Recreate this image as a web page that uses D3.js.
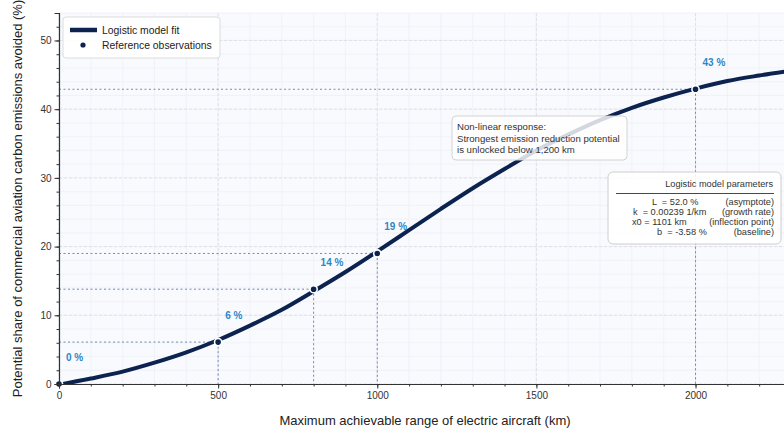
<!DOCTYPE html>
<html><head><meta charset="utf-8">
<script src="https://cdn.jsdelivr.net/npm/d3@7/dist/d3.min.js"></script>
<style>
body{margin:0;background:#fff;}
text{font-family:"Liberation Sans",Arial,sans-serif;}
</style></head>
<body><svg id="c" width="784" height="433"></svg>
<script>
// Fitted logistic curve at 100 km steps
const curveRange = [0,100,200,300,400,500,600,700,800,900,1000,1100,1200,1300,1400,1500,1600,1700,1800,1900,2000,2100,2200,2300];
const curveShare = [-0.1,0.8,1.8,3.1,4.6,6.4,8.5,10.8,13.5,16.3,19.3,22.4,25.5,28.5,31.3,34.0,36.3,38.4,40.2,41.7,43.0,44.1,44.9,45.6];
// Reference observations
const obsRange = [0,500,800,1000,2000];
const obsShare = [0,6.1,13.8,19.0,42.9];
const obsLabels = ["0 %","6 %","14 %","19 %","43 %"];
const xTicks = [0,500,1000,1500,2000];
const yTicks = [0,10,20,30,40,50];
const legendLabels = ["Logistic model fit","Reference observations"];
const noteLines = ["Non-linear response:","Strongest emission reduction potential","is unlocked below 1,200 km"];
const paramTitle = "Logistic model parameters";
const paramLeft = ["L  = 52.0 %","k  = 0.00239 1/km","x0 = 1101 km","b  = -3.58 %"];
const paramRight = ["(asymptote)","(growth rate)","(inflection point)","(baseline)"];

const navy = "#0c2350", blueLbl = "#2b87c8", guide = "#5b78b0";
const svg = d3.select("#c");
const m = {l:59, t:13, r:791, b:384};
const x = d3.scaleLinear().domain([0,2300]).range([m.l,m.r]);
const y = d3.scaleLinear().domain([0,54]).range([m.b,m.t]);

svg.append("rect").attr("x",m.l).attr("y",m.t).attr("width",m.r-m.l).attr("height",m.b-m.t).attr("fill","#f9fafd");
svg.append("clipPath").attr("id","clip").append("rect").attr("x",m.l).attr("y",m.t).attr("width",m.r-m.l).attr("height",m.b-m.t);

const g = svg.append("g");
// minor grid
g.selectAll(".mx").data(d3.range(0,2301,100)).join("line").attr("x1",d=>x(d)).attr("x2",d=>x(d)).attr("y1",m.t).attr("y2",m.b).attr("stroke","#edf0f7").attr("stroke-width",0.8);
g.selectAll(".my").data(d3.range(0,55,2)).join("line").attr("y1",d=>y(d)).attr("y2",d=>y(d)).attr("x1",m.l).attr("x2",m.r).attr("stroke","#edf0f7").attr("stroke-width",0.8);
// major grid
g.selectAll(".Mx").data(xTicks).join("line").attr("x1",d=>x(d)).attr("x2",d=>x(d)).attr("y1",m.t).attr("y2",m.b).attr("stroke","#dcdfe8").attr("stroke-width",0.9).attr("stroke-dasharray","3,2");
g.selectAll(".My").data(yTicks).join("line").attr("y1",d=>y(d)).attr("y2",d=>y(d)).attr("x1",m.l).attr("x2",m.r).attr("stroke","#dcdfe8").attr("stroke-width",0.9).attr("stroke-dasharray","3,2");

// guide lines
const obs = obsRange.map((r,i)=>({r, s:obsShare[i], lab:obsLabels[i]}));
const gl = svg.append("g");
obs.forEach(o=>{
  gl.append("line").attr("x1",x(0)).attr("x2",x(o.r)).attr("y1",y(o.s)).attr("y2",y(o.s)).attr("stroke",guide).attr("stroke-width",1).attr("stroke-dasharray","2,2.5").attr("opacity",0.85);
  gl.append("line").attr("x1",x(o.r)).attr("x2",x(o.r)).attr("y1",y(o.s)).attr("y2",y(0)).attr("stroke",guide).attr("stroke-width",1).attr("stroke-dasharray","2,2.5").attr("opacity",0.85);
});

// curve
const pts = curveRange.map((r,i)=>[r,curveShare[i]]);
svg.append("path").attr("clip-path","url(#clip)").datum(pts)
  .attr("d",d3.line().x(d=>x(d[0])).y(d=>y(d[1])).curve(d3.curveMonotoneX))
  .attr("fill","none").attr("stroke",navy).attr("stroke-width",4).attr("stroke-linecap","butt");

// observation dots
svg.append("g").selectAll("circle").data(obs).join("circle")
  .attr("cx",d=>x(d.r)).attr("cy",d=>y(d.s)).attr("r",3.6)
  .attr("fill",navy).attr("stroke","#fff").attr("stroke-width",1.6);
svg.append("g").selectAll("text").data(obs).join("text")
  .attr("x",d=>x(d.r)+7).attr("y",d=>y(d.s)-23)
  .attr("font-size",10).attr("font-weight","bold").attr("fill",blueLbl).text(d=>d.lab);

// axes
const xa = svg.append("g").attr("transform",`translate(0,${m.b})`);
xa.call(d3.axisBottom(x).tickValues(d3.range(0,2301,100)).tickSize(2.5).tickFormat(""));
const xa2 = svg.append("g").attr("transform",`translate(0,${m.b})`);
xa2.call(d3.axisBottom(x).tickValues(xTicks).tickSize(4.5).tickPadding(3).tickFormat(d3.format("d")));
[xa,xa2].forEach(a=>{a.select(".domain").attr("stroke","#333").attr("stroke-width",1.1);a.selectAll(".tick line").attr("stroke","#333");});
xa2.selectAll("text").attr("font-size",10).attr("fill","#333").attr("font-family","Liberation Sans, Arial, sans-serif");

const ya = svg.append("g").attr("transform",`translate(${m.l},0)`);
ya.call(d3.axisLeft(y).tickValues(d3.range(0,55,2)).tickSize(2.5).tickFormat(""));
const ya2 = svg.append("g").attr("transform",`translate(${m.l},0)`);
ya2.call(d3.axisLeft(y).tickValues(yTicks).tickSize(4.5).tickPadding(3));
[ya,ya2].forEach(a=>{a.select(".domain").attr("stroke","#333").attr("stroke-width",1.1);a.selectAll(".tick line").attr("stroke","#333");});
ya2.selectAll("text").attr("font-size",10).attr("fill","#333").attr("font-family","Liberation Sans, Arial, sans-serif");

svg.append("text").attr("x",425).attr("y",425).attr("text-anchor","middle").attr("font-size",13).attr("fill","#222")
  .text("Maximum achievable range of electric aircraft (km)");
svg.append("text").attr("transform",`translate(22,${(m.t+m.b)/2}) rotate(-90)`).attr("text-anchor","middle").attr("font-size",13).attr("fill","#222")
  .text("Potential share of commercial aviation carbon emissions avoided (%)");

// legend
const lg = svg.append("g");
lg.append("rect").attr("x",63).attr("y",17).attr("width",157).attr("height",41).attr("rx",3).attr("fill","#fff").attr("fill-opacity",0.9).attr("stroke","#d4d4d4").attr("stroke-width",0.8);
lg.append("line").attr("x1",70).attr("x2",97).attr("y1",30).attr("y2",30).attr("stroke",navy).attr("stroke-width",4.5);
lg.append("circle").attr("cx",83).attr("cy",45).attr("r",2.6).attr("fill",navy);
legendLabels.forEach((t,i)=>lg.append("text").attr("x",102).attr("y",34+i*15).attr("font-size",10.4).attr("fill","#222").text(t));

// note box
const nb = svg.append("g");
nb.append("rect").attr("x",452).attr("y",116).attr("width",175).attr("height",44).attr("rx",4).attr("fill","#fff").attr("fill-opacity",0.82).attr("stroke","#cfcfcf").attr("stroke-width",0.9);
noteLines.forEach((t,i)=>nb.append("text").attr("x",457).attr("y",130+i*11.5).attr("font-size",9.6).attr("fill","#333").text(t));

// parameter box
const pb = svg.append("g");
pb.append("rect").attr("x",608).attr("y",172).attr("width",173).attr("height",72).attr("rx",5).attr("fill","#fff").attr("fill-opacity",0.88).attr("stroke","#c8c8c8").attr("stroke-width",0.9);
pb.append("text").attr("x",773).attr("y",186.5).attr("text-anchor","end").attr("font-size",9.2).attr("fill","#333").text(paramTitle);
pb.append("line").attr("x1",616).attr("x2",774).attr("y1",193.5).attr("y2",193.5).attr("stroke","#333").attr("stroke-width",0.9);
const leftX = [652,633,632,657];
paramLeft.forEach((t,i)=>{
  pb.append("text").attr("x",leftX[i]).attr("y",205+i*10).attr("font-size",9.2).attr("fill","#333").style("white-space","pre").text(t);
  pb.append("text").attr("x",774).attr("y",205+i*10).attr("text-anchor","end").attr("font-size",9.2).attr("fill","#333").text(paramRight[i]);
});
</script></body></html>
